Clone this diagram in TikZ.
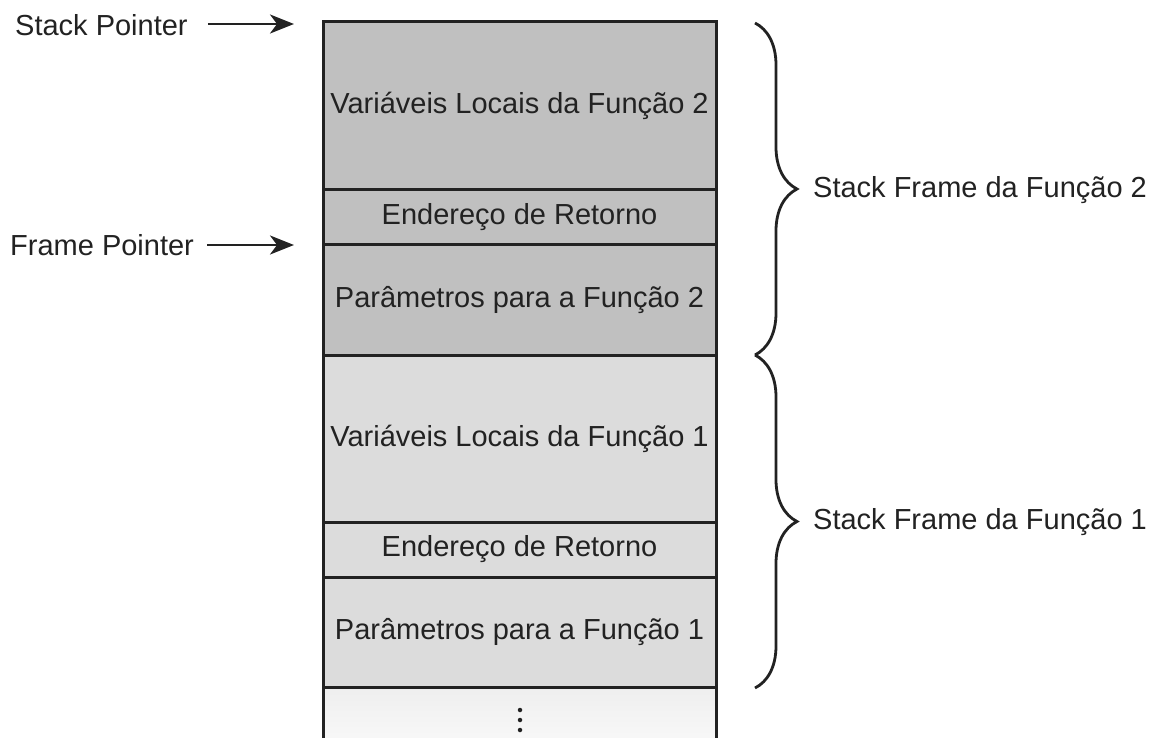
\documentclass[tikz,border=0pt]{standalone}
\usepackage{fontspec}
\setmainfont{Liberation Sans}
\usetikzlibrary{arrows.meta,decorations.pathreplacing}
\definecolor{ink}{RGB}{34,34,34}
\definecolor{darkcell}{RGB}{192,192,192}
\definecolor{lightcell}{RGB}{220,220,220}
\definecolor{fadecell}{RGB}{238,238,238}
\begin{document}
\begin{tikzpicture}[x=1pt,y=-1pt,
  every node/.style={font=\fontsize{29}{34}\selectfont, text=ink},
  cell/.style={draw=ink, line width=3pt, minimum width=393pt, inner sep=0pt, anchor=center},
  dcell/.style={cell, fill=darkcell},
  lcell/.style={cell, fill=lightcell},
  lbl/.style={inner sep=0pt},
  arr/.style={draw=ink, line width=2.5pt, -{Stealth[length=24pt,width=19pt,inset=7pt]}},
  brc/.style={draw=ink, line width=2.8pt, decorate, decoration={brace, amplitude=42pt}},
  vdot/.style={fill=ink, circle, inner sep=0pt, minimum size=4.5pt}]
\useasboundingbox (0,0) rectangle (1152,738);
% bottom fading cell (extends past the page edge)
\node[cell, shading=axis, top color=fadecell, bottom color=white, minimum height=90pt] (c7) at (519.5,732) {};
\node[vdot] (d1) at (520,710) {};
\node[vdot] (d2) at (520,720) {};
\node[vdot] (d3) at (520,730) {};
% cells
\node[dcell, minimum height=168pt] (c1) at (519.5,106) {Variáveis Locais da Função 2};
\node[dcell, minimum height=55pt] (c2) at (519.5,217.5) {Endereço de Retorno};
\node[dcell, minimum height=110pt] (c3) at (519.5,300) {Parâmetros para a Função 2};
\node[lcell, minimum height=167pt] (c4) at (519.5,438.5) {Variáveis Locais da Função 1};
\node[lcell, minimum height=55pt] (c5) at (519.5,549.5) {Endereço de Retorno};
\node[lcell, minimum height=110pt] (c6) at (519.5,632) {Parâmetros para a Função 1};
% pointers
\node[lbl, anchor=west] (sp) at (15,25) {Stack Pointer};
\node[lbl, anchor=west] (fp) at (10,245) {Frame Pointer};
\coordinate (spT) at (294,24);
\coordinate (fpT) at (294,245);
\draw[arr] ([xshift=20pt]sp.east |- spT) -- (spT);
\draw[arr] ([xshift=13pt]fp.east |- fpT) -- (fpT);
% braces
\coordinate (b1s) at (755,23);
\coordinate (b1e) at (755,355);
\coordinate (b2s) at (755,355);
\coordinate (b2e) at (755,688);
\draw[brc] (b1s) -- (b1e);
\draw[brc] (b2s) -- (b2e);
\node[lbl, anchor=west] (f2) at (813,190) {Stack Frame da Função 2};
\node[lbl, anchor=west] (f1) at (813,522) {Stack Frame da Função 1};
\end{tikzpicture}
\end{document}
